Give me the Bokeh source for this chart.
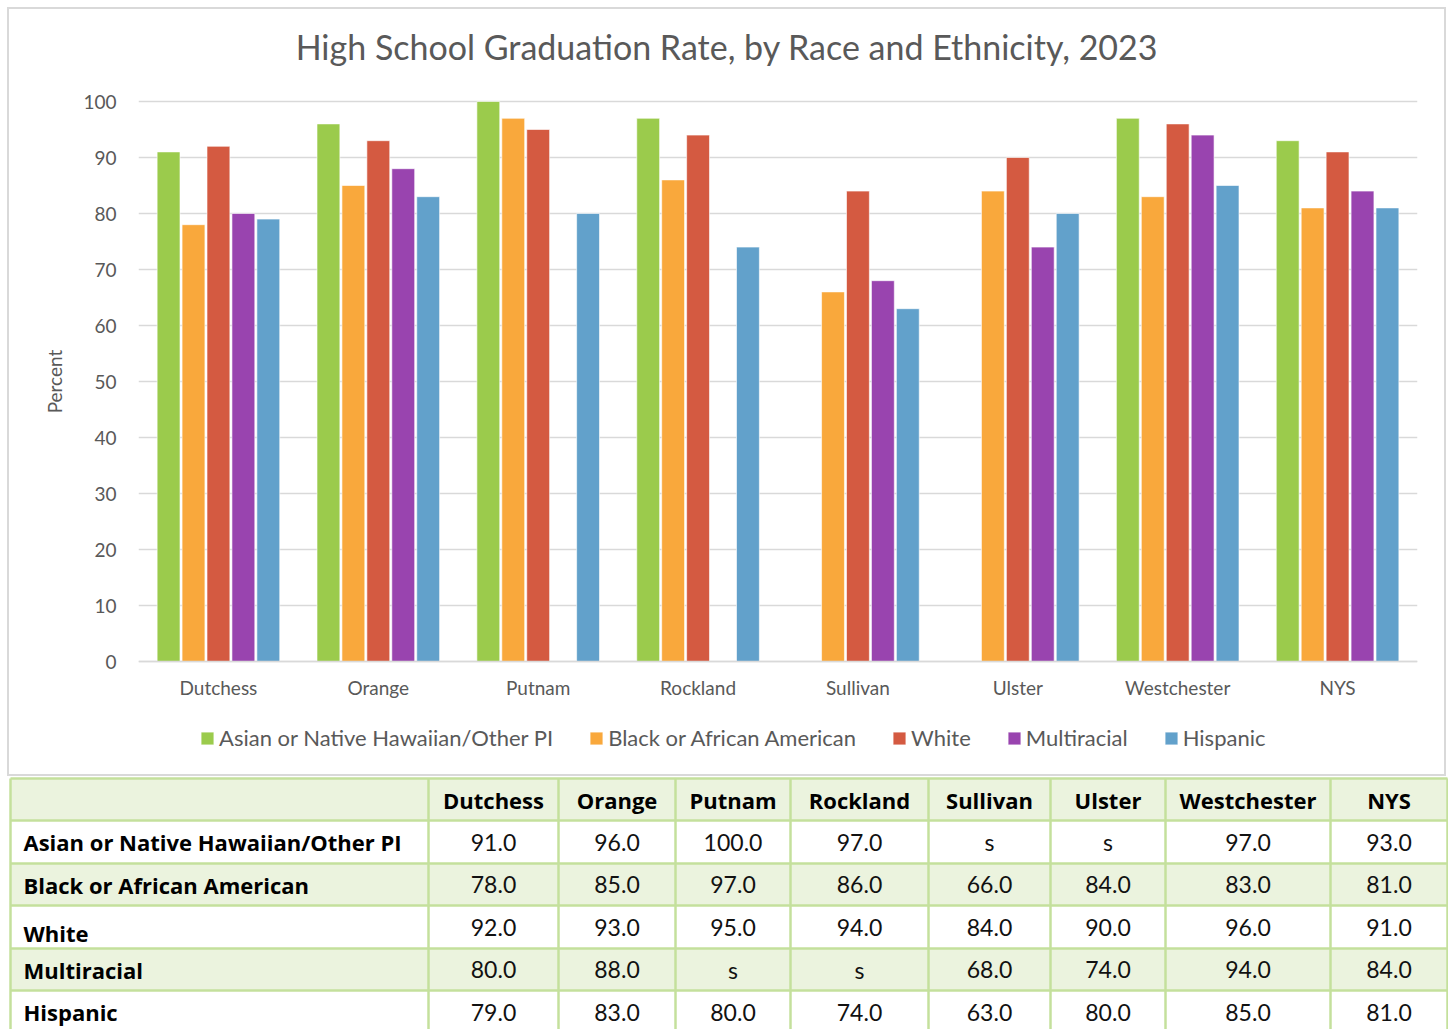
from bokeh.plotting import figure
from bokeh.models import (FactorRange, Range1d, Legend, LegendItem, Label, ColumnDataSource,
                          FixedTicker)
from bokeh.transform import dodge
from bokeh.embed import file_html
from bokeh.resources import INLINE
from bokeh.core.properties import value

# ---------------- data ----------------
counties = ["Dutchess", "Orange", "Putnam", "Rockland", "Sullivan", "Ulster", "Westchester", "NYS"]
groups = ["Asian or Native Hawaiian/Other PI", "Black or African American", "White",
          "Multiracial", "Hispanic"]
asian = [91.0, 96.0, 100.0, 97.0, None, None, 97.0, 93.0]
black = [78.0, 85.0, 97.0, 86.0, 66.0, 84.0, 83.0, 81.0]
white = [92.0, 93.0, 95.0, 94.0, 84.0, 90.0, 96.0, 91.0]
multiracial = [80.0, 88.0, None, None, 68.0, 74.0, 94.0, 84.0]
hispanic = [79.0, 83.0, 80.0, 74.0, 63.0, 80.0, 85.0, 81.0]
y_ticks = [0, 10, 20, 30, 40, 50, 60, 70, 80, 90, 100]
title_text = "High School Graduation Rate, by Race and Ethnicity, 2023"
y_label = "Percent"

series = [asian, black, white, multiracial, hispanic]
colors = ["#9BCB4C", "#F9A83C", "#D45A41", "#9944AF", "#62A1CB"]

FONT = "Lato"
GREY = "#595959"

# ---------------- chart ----------------
# frame extends above 100 and below 0 so that title and legend sit inside it
p = figure(width=1435, height=765, x_range=FactorRange(*counties),
           y_range=Range1d(-16.25, 116.25),
           output_backend="svg", toolbar_location=None,
           min_border_left=129, min_border_right=27, min_border_top=1, min_border_bottom=22,
           margin=(9, 4, 2, 9),
           styles={"outline": "2px solid #D9D9D9"})
p.outline_line_color = None
p.background_fill_color = "white"
p.border_fill_color = "white"

items = []
for i, (name, vals, col) in enumerate(zip(groups, series, colors)):
    xs = [c for c, v in zip(counties, vals) if v is not None]
    ys = [v for v in vals if v is not None]
    src = ColumnDataSource(dict(x=xs, top=ys))
    r = p.vbar(x=dodge("x", (i - 2) * 0.156, range=p.x_range), top="top", bottom=0,
               width=0.143, source=src, fill_color=col, line_color="white", line_width=0.6)
    items.append(LegendItem(label=name, renderers=[r]))

p.yaxis.ticker = FixedTicker(ticks=y_ticks)
p.yaxis.axis_line_color = None
p.yaxis.major_tick_line_color = None
p.yaxis.minor_tick_line_color = None
p.yaxis.major_tick_out = 0
p.yaxis.major_tick_in = 0
p.yaxis.major_label_standoff = 22
p.yaxis.major_label_text_font = FONT
p.yaxis.major_label_text_font_size = "19px"
p.yaxis.major_label_text_color = GREY
p.yaxis.axis_label = y_label
p.yaxis.axis_label_text_font = FONT
p.yaxis.axis_label_text_font_size = "19px"
p.yaxis.axis_label_text_font_style = "normal"
p.yaxis.axis_label_text_color = GREY
p.yaxis.axis_label_standoff = 14

p.xaxis.fixed_location = 0
p.xaxis.axis_line_color = "#D9D9D9"
p.xaxis.axis_line_width = 1.5
p.xaxis.major_tick_line_color = None
p.xaxis.minor_tick_line_color = None
p.xaxis.major_tick_out = 0
p.xaxis.major_tick_in = 0
p.xaxis.major_label_standoff = 14
p.xaxis.major_label_text_font = FONT
p.xaxis.major_label_text_font_size = "19px"
p.xaxis.major_label_text_color = GREY

p.xgrid.grid_line_color = None
p.ygrid.grid_line_color = "#D9D9D9"
p.ygrid.grid_line_width = 1.5

# title, centred over the whole chart box
p.add_layout(Label(x=588.5, x_units="screen", y=109.8, text=title_text,
                   text_align="center", text_baseline="middle", text_font=FONT,
                   text_font_size="34px", text_color=GREY))

legend = Legend(items=items, orientation="horizontal", location=(61, 1),
                glyph_width=16, glyph_height=16, label_standoff=4, spacing=35,
                padding=0, margin=0, border_line_color=None, background_fill_alpha=0,
                label_text_font=FONT, label_text_font_size="22px", label_text_color=GREY,
                label_height=16)
p.add_layout(legend)

# ---------------- table ----------------
t = figure(width=1448, height=253, x_range=Range1d(0, 1448), y_range=Range1d(1029, 776),
           output_backend="svg", toolbar_location=None,
           min_border_left=0, min_border_right=0, min_border_top=0, min_border_bottom=0)
t.axis.visible = False
t.grid.grid_line_color = None
t.outline_line_color = None

col_edges = [10, 428, 558, 675, 790, 928, 1050, 1165, 1330, 1447]
row_edges = [778, 820, 863, 905, 948, 990, 1033]
GREEN_FILL = "#EBF3DE"
LINE = "#C4E09C"

fills = [GREEN_FILL, "white", GREEN_FILL, "white", GREEN_FILL, "white"]
t.quad(left=[col_edges[0]] * 6, right=[col_edges[-1]] * 6,
       top=row_edges[:-1], bottom=row_edges[1:], fill_color=fills, line_color=None)
t.segment(x0=[col_edges[0]] * len(row_edges), x1=[col_edges[-1]] * len(row_edges),
          y0=row_edges, y1=row_edges, line_color=LINE, line_width=2.5)
t.segment(x0=col_edges, x1=col_edges, y0=[row_edges[0]] * len(col_edges),
          y1=[row_edges[-1]] * len(col_edges), line_color=LINE, line_width=2.5)

centers = [(a + b) / 2 for a, b in zip(col_edges[1:-1], col_edges[2:])]
row_mid = [(a + b) / 2 for a, b in zip(row_edges[:-1], row_edges[1:])]

t.text(x=centers, y=[row_mid[0]] * len(counties), text=counties, text_align="center",
       text_baseline="middle", text_font=value("Open Sans"), text_font_style="bold",
       text_font_size="22px", text_color="black")

label_y = [row_mid[1], row_mid[2], row_mid[3] + 6, row_mid[4], row_mid[5]]
t.text(x=[23] * len(groups), y=label_y, text=groups, text_align="left",
       text_baseline="middle", text_font=value("Open Sans"), text_font_style="bold",
       text_font_size="22px", text_color="black")

vx, vy, vt = [], [], []
for r, vals in enumerate(series):
    for c, v in enumerate(vals):
        vx.append(centers[c])
        vy.append(row_mid[r + 1])
        vt.append("s" if v is None else f"{v:.1f}")
t.text(x=vx, y=vy, text=vt, text_align="center", text_baseline="middle",
       text_font=value(FONT), text_font_size="23px", text_color="#111111")

open("out.html", "w").write(file_html([p, t], INLINE))
